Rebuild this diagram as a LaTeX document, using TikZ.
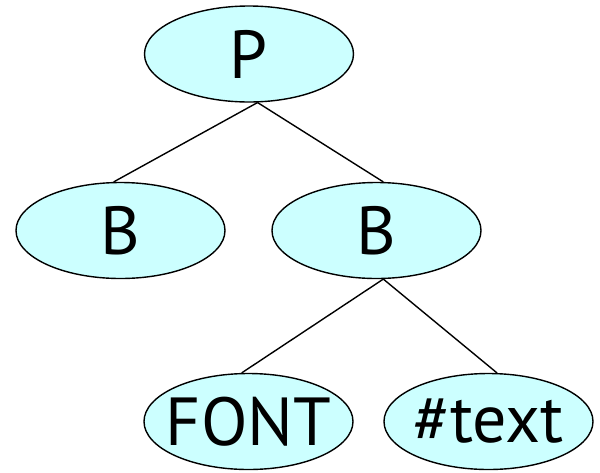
\documentclass[tikz,border=0pt]{standalone}
\usepackage{fontspec}
\setmainfont{PT Sans}
\usetikzlibrary{shapes.geometric}
\definecolor{nodefill}{HTML}{CCFFFF}
\newcommand{\nodetext}[1]{\makebox[0pt]{#1}}
\tikzset{
  treenode/.style={ellipse, draw=black, line width=1.4pt, fill=nodefill,
    minimum width=209pt, minimum height=96pt, inner sep=0pt,
    font=\fontsize{68}{68}\selectfont},
  edge/.style={line width=1.4pt, draw=black}
}
\begin{document}
\begin{tikzpicture}[x=1pt,y=-1pt]
  \useasboundingbox (0,0) rectangle (600,472);
  \node[treenode] (p)  at (249,54)    {\nodetext{P}};
  \node[treenode] (b1) at (120.5,230.5) {\nodetext{B}};
  \node[treenode] (b2) at (376.5,230.5) {\nodetext{B}};
  \node[treenode] (f)  at (248.5,421.5) {\nodetext{FONT}};
  \node[treenode] (t)  at (488.5,421.5) {\nodetext{\#text}};
  \draw[edge] (p.-80) -- (b1.98);
  \draw[edge] (p.-80) -- (b2.82);
  \draw[edge] (b2.-82) -- (f.98);
  \draw[edge] (b2.-82) -- (t.80);
\end{tikzpicture}
\end{document}
